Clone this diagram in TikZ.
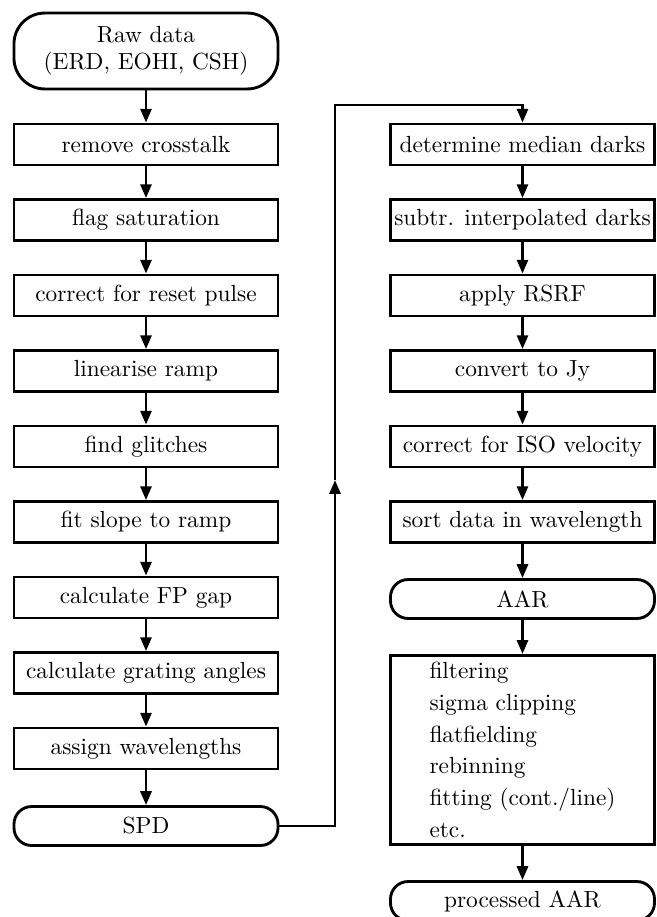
\documentclass[tikz,border=0pt]{standalone}
\usepackage{tikz}
\usetikzlibrary{arrows.meta,positioning}

\tikzset{
  proc/.style={draw, line width=1.3pt, minimum width=120pt, minimum height=18.6pt, inner sep=0.5pt},
  term/.style={proc, rounded corners=8pt, minimum height=17.7pt},
  flow/.style={line width=1.3pt, -{Triangle[length=6.3pt,width=5pt]}}
}

\begin{document}
\begin{tikzpicture}[x=0.4545pt, y=-0.4545pt, font=\fontsize{10.6}{12.5}\selectfont]
    \useasboundingbox (0,0) rectangle (657,917);

    % Left column: pipeline up to SPD
    \node[term, rounded corners=14pt, minimum height=34.5pt, align=center] (raw) at (146,51) {Raw data\\(ERD, EOHI, CSH)};
    \node[proc] (xtalk) at (146,144.5) {remove crosstalk};
    \node[proc] (satur) at (146,220) {flag saturation};
    \node[proc] (reset) at (146,295.5) {correct for reset pulse};
    \node[proc] (linramp) at (146,371) {linearise ramp};
    \node[proc] (glitch) at (146,446.5) {find glitches};
    \node[proc] (slope) at (146,522) {fit slope to ramp};
    \node[proc] (fpgap) at (146,597.5) {calculate FP gap};
    \node[proc] (angles) at (146,673) {calculate grating angles};
    \node[proc] (wavel) at (146,748.5) {assign wavelengths};
    \node[term] (spd) at (146,826) {SPD};

    \draw[flow] (raw) -- (xtalk);
    \draw[flow] (xtalk) -- (satur);
    \draw[flow] (satur) -- (reset);
    \draw[flow] (reset) -- (linramp);
    \draw[flow] (linramp) -- (glitch);
    \draw[flow] (glitch) -- (slope);
    \draw[flow] (slope) -- (fpgap);
    \draw[flow] (fpgap) -- (angles);
    \draw[flow] (angles) -- (wavel);
    \draw[flow] (wavel) -- (spd);

    % Right column: SPD to AAR and beyond
    \node[proc] (darks) at (522.5,144.5) {determine median darks};
    \node[proc] (subdark) at (522.5,220) {subtr. interpolated darks};
    \node[proc] (rsrf) at (522.5,295.5) {apply RSRF};
    \node[proc] (jansky) at (522.5,371) {convert to Jy};
    \node[proc] (isovel) at (522.5,446.5) {correct for ISO velocity};
    \node[proc] (sortwl) at (522.5,522) {sort data in wavelength};
    \node[term] (aar) at (522.5,599) {AAR};
    \node[proc, minimum height=86pt, align=left, font=\fontsize{10.6}{14.4}\selectfont] (post) at (522.5,750)
        {filtering\\sigma clipping\\flatfielding\\rebinning\\fitting (cont./line)\\etc.};
    \node[term] (paar) at (522.5,901) {processed AAR};

    \draw[flow] (darks) -- (subdark);
    \draw[flow] (subdark) -- (rsrf);
    \draw[flow] (rsrf) -- (jansky);
    \draw[flow] (jansky) -- (isovel);
    \draw[flow] (isovel) -- (sortwl);
    \draw[flow] (sortwl) -- (aar);
    \draw[flow] (aar) -- (post);
    \draw[flow] (post) -- (paar);

    % Link between the columns
    \coordinate (rise) at (335,480);
    \coordinate (bend) at (335,105);
    \draw[flow] (spd.east) -| (rise);
    \draw[flow] (rise) -- (bend) -| (darks.north);
\end{tikzpicture}
\end{document}
